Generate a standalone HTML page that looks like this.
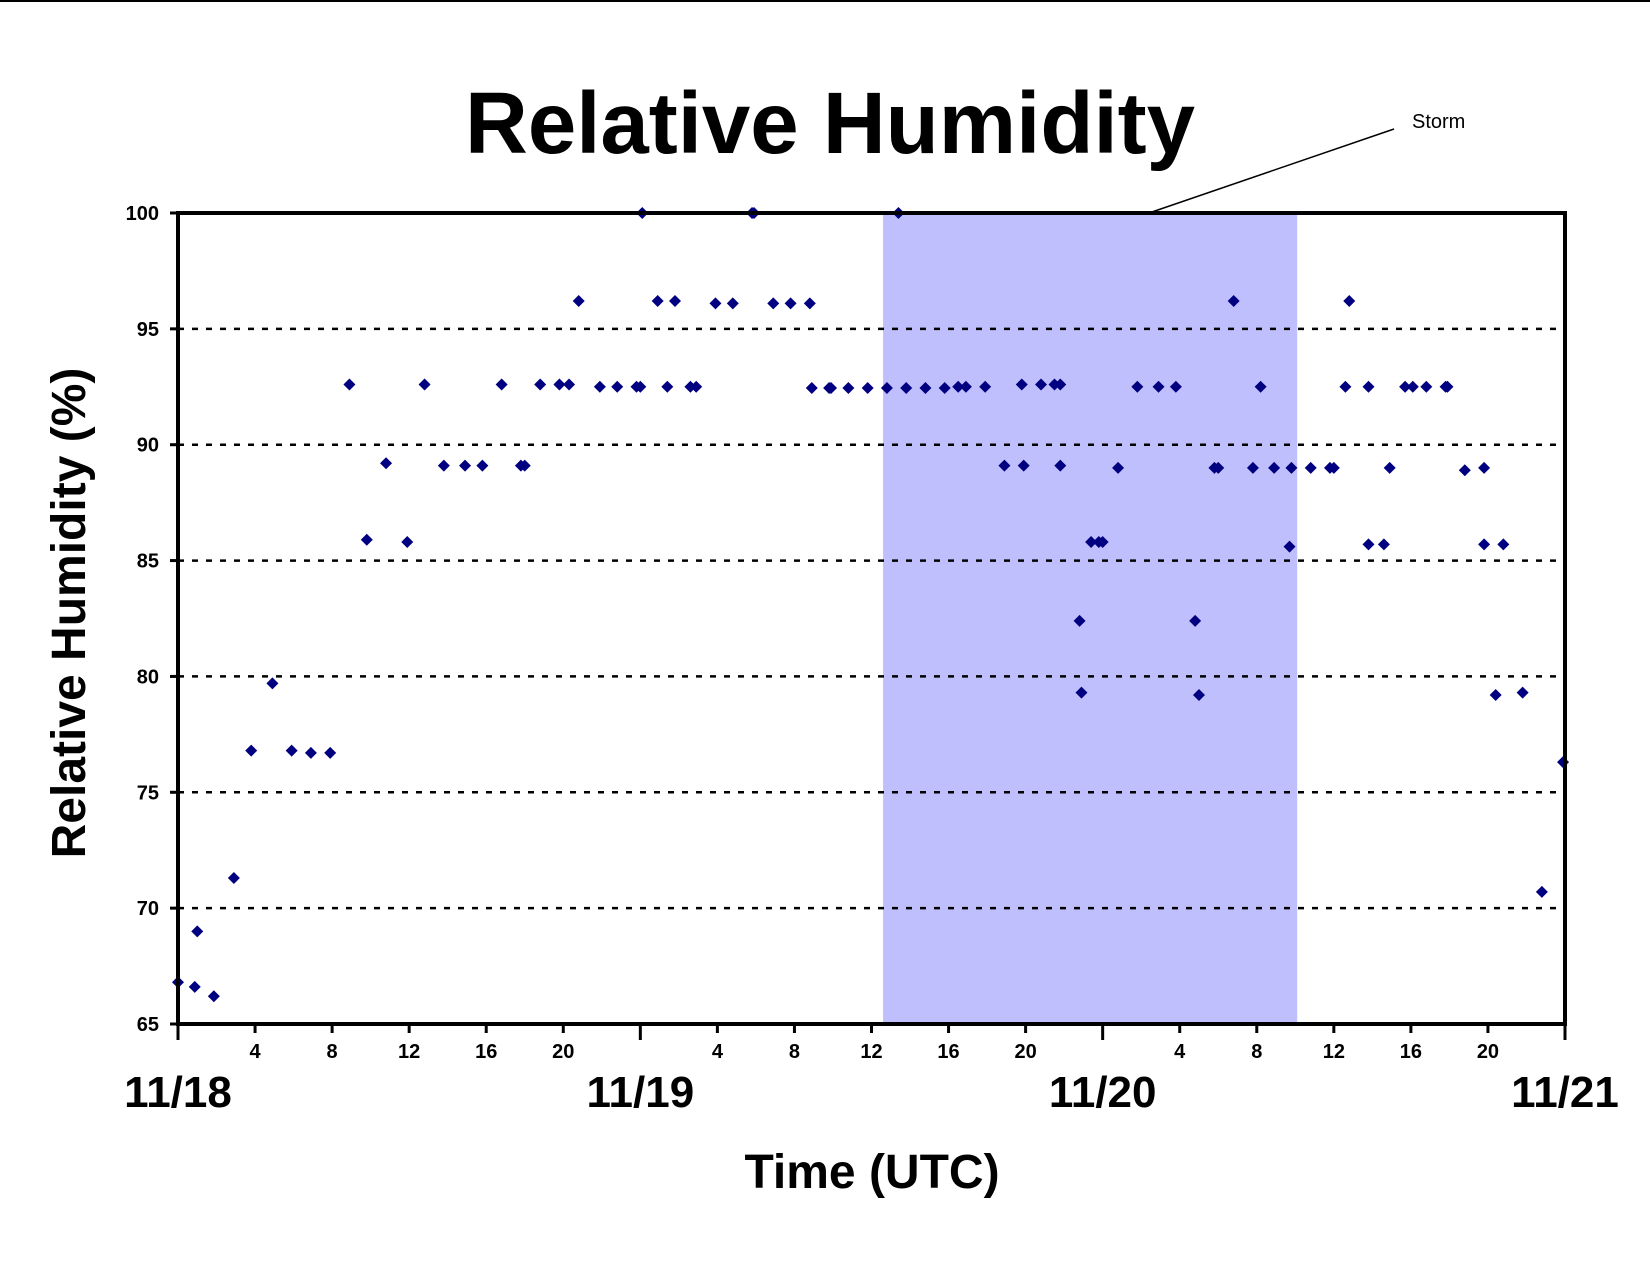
<!DOCTYPE html>
<html><head><meta charset="utf-8"><style>
body{margin:0;background:#fff}
svg{display:block;font-family:"Liberation Sans",Arial,sans-serif}
</style></head><body>
<svg id="chart" width="1650" height="1275" viewBox="0 0 1650 1275" xmlns="http://www.w3.org/2000/svg">
<line x1="0" y1="1" x2="1650" y2="1" stroke="#000" stroke-width="2"/>
<text x="830" y="153" text-anchor="middle" font-size="87" font-weight="bold">Relative Humidity</text>
<g id="plot"></g>
<text x="1412" y="128" font-size="20">Storm</text>
<line x1="1149" y1="213" x2="1394" y2="129" stroke="#000" stroke-width="1.5"/>
<text x="872" y="1188" text-anchor="middle" font-size="48" font-weight="bold">Time (UTC)</text>
<text transform="translate(85,613) rotate(-90)" text-anchor="middle" font-size="48" font-weight="bold">Relative Humidity (%)</text>
</svg>
<script>
const hours=[0,0.87,1,1.86,2.9,3.8,4.9,5.9,6.9,7.9,8.9,9.8,10.8,11.9,12.8,13.8,14.9,15.8,16.8,17.8,18,18.8,19.8,20.3,20.8,21.9,22.8,23.8,24,24.1,24.9,25.4,25.8,26.6,26.9,27.9,28.8,29.8,29.9,30.9,31.8,32.8,32.9,33.8,33.9,34.8,35.8,36.8,37.4,37.8,38.8,39.8,40.5,40.9,41.9,42.9,43.8,43.9,44.8,45.5,45.8,45.8,46.8,46.9,47.4,47.8,48,48.8,49.8,50.9,51.8,52.8,53,53.8,54,54.8,55.8,56.2,56.9,57.7,57.8,58.8,59.8,60,60.6,60.8,61.8,61.8,62.6,62.9,63.7,64.1,64.8,65.8,65.9,66.8,67.8,67.8,68.4,68.8,69.8,70.8,71.9];
const rh=[66.8,66.6,69.0,66.2,71.3,76.8,79.7,76.8,76.7,76.7,92.6,85.9,89.2,85.8,92.6,89.1,89.1,89.1,92.6,89.1,89.1,92.6,92.6,92.6,96.2,92.5,92.5,92.5,92.5,100,96.2,92.5,96.2,92.5,92.5,96.1,96.1,100,100,96.1,96.1,96.1,92.45,92.45,92.45,92.45,92.45,92.45,100,92.45,92.45,92.45,92.5,92.5,92.5,89.1,92.6,89.1,92.6,92.6,92.6,89.1,82.4,79.3,85.8,85.8,85.8,89.0,92.5,92.5,92.5,82.4,79.2,89.0,89.0,96.2,89.0,92.5,89.0,85.6,89.0,89.0,89.0,89.0,92.5,96.2,92.5,85.7,85.7,89.0,92.5,92.5,92.5,92.5,92.5,88.9,89.0,85.7,79.2,85.7,79.3,70.7,76.3];
const yTicks=[65,70,75,80,85,90,95,100];
const xTickHours=[4,8,12,16,20];
const dayLabels=["11/18","11/19","11/20","11/21"];
const stormRange=[36.6,58.1];

const L=178,R=1565,T=213,B=1024,NS="http://www.w3.org/2000/svg";
const xs=h=>L+(R-L)*h/72, ys=v=>B-(B-T)*(v-65)/35;
const g=document.getElementById('plot');
function mk(t,a,p){const e=document.createElementNS(NS,t);for(const k in a)e.setAttribute(k,a[k]);(p||g).appendChild(e);return e;}
let e=mk('rect',{x:xs(stormRange[0]),y:T,width:xs(stormRange[1])-xs(stormRange[0]),height:B-T,fill:'#bfbffd'});


yTicks.forEach(v=>{
 if(v>65&&v<100){e=mk('line',{x1:L,x2:R,y1:ys(v),y2:ys(v),stroke:'#000','stroke-width':2.5,'stroke-dasharray':'6,8'});
 
 }
 e=mk('line',{x1:L-8,x2:L,y1:ys(v),y2:ys(v),stroke:'#000','stroke-width':3});
 
 
 e=mk('text',{x:L-19,y:ys(v)+7,'text-anchor':'end','font-size':20,'font-weight':'bold'});e.textContent=v;
 
 
});
for(let d=0;d<3;d++){xTickHours.forEach(h=>{const x=xs(d*24+h);
 e=mk('line',{x1:x,x2:x,y1:B,y2:B+9,stroke:'#000','stroke-width':3});
 
 
 e=mk('text',{x:x,y:B+34,'text-anchor':'middle','font-size':20,'font-weight':'bold'});e.textContent=h;
 
 });}
dayLabels.forEach((s,i)=>{const x=xs(i*24);
 e=mk('line',{x1:x,x2:x,y1:B,y2:B+16,stroke:'#000','stroke-width':3});
 
 
 e=mk('text',{x:x,y:1107,'text-anchor':'middle','font-size':44,'font-weight':'bold'});e.textContent=s;
 
 });
hours.forEach((h,i)=>{const x=xs(h),y=ys(rh[i]);
 e=mk('polygon',{points:`${x},${y-6} ${x+6},${y} ${x},${y+6} ${x-6},${y}`,fill:'#000080'});
 
 });
e=mk('rect',{x:L,y:T,width:R-L,height:B-T,fill:'none',stroke:'#000','stroke-width':4});


</script>
</body></html>
